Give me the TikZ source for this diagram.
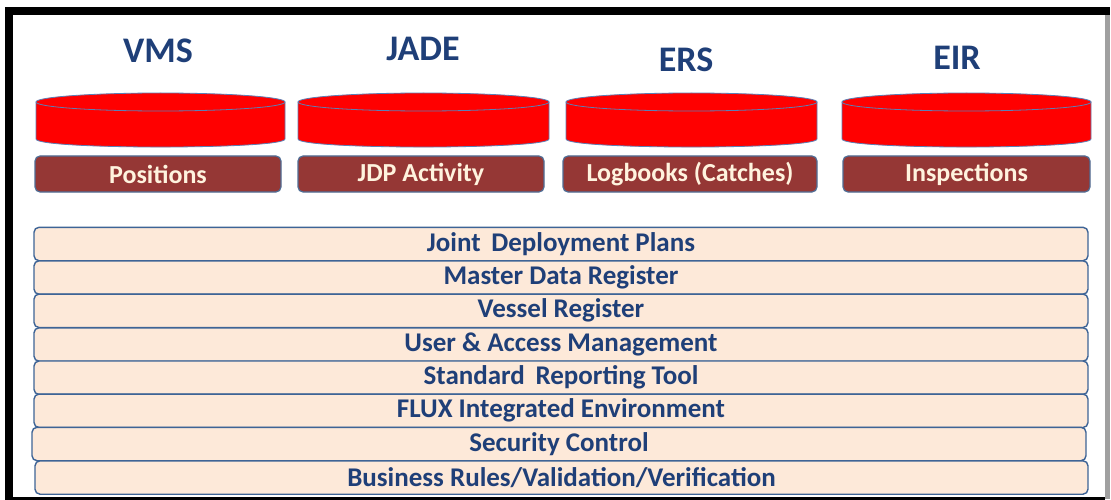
\documentclass[tikz,border=0pt]{standalone}
\usepackage{fontspec}
\setmainfont{Carlito}
\definecolor{titleblue}{HTML}{1F3F78}
\definecolor{rowfill}{HTML}{FDE9D9}
\definecolor{rowline}{HTML}{3E6496}
\definecolor{boxfill}{HTML}{953735}
\definecolor{boxline}{HTML}{4F6E96}
\definecolor{boxtext}{HTML}{FFF3DE}
\definecolor{cylline}{HTML}{5B7FB5}
\definecolor{framegrey}{HTML}{A0A0A0}
\tikzset{
  rowbox/.style={draw=rowline, fill=rowfill, line width=1.4pt, rounded corners=5pt,
    minimum height=33.4pt, inner sep=0pt, font=\fontsize{27}{29}\selectfont\bfseries, text=titleblue},
  labelbox/.style={draw=boxline, fill=boxfill, line width=1.2pt, rounded corners=5pt,
    minimum height=36pt, inner sep=0pt, font=\fontsize{26}{28}\selectfont\bfseries, text=boxtext},
  titletext/.style={anchor=base, inner sep=0pt, font=\fontsize{36}{38}\selectfont\bfseries, text=titleblue},
  cyl/.style={fill=red, draw=cylline, line width=0.8pt}
}
\newcommand{\mycyl}[3]{% name, x1, x2
  \path[cyl] (#2,102) -- (#2,139) .. controls (#2,149.7) and (#3,149.7) .. (#3,139) -- (#3,102) -- cycle;
  \path[cyl] ({(#2+#3)/2},102) ellipse [x radius={(#3-#2)/2*1pt}, y radius=9pt];
  \coordinate (#1) at ({(#2+#3)/2},120);
}
\begin{document}
\begin{tikzpicture}[x=1pt,y=-1pt]
\useasboundingbox (0,0) rectangle (1111,500);
\fill[white] (0,0) rectangle (1111,500);
% frame
\fill[black] (5,7) rectangle (1110,15);
\fill[black] (5,7) rectangle (13,499);
\fill[black] (5,497) rectangle (1105,499.5);
\fill[framegrey] (1105,15) rectangle (1110,499);

% titles
\node[titletext] (tvms) at (158,63) {VMS};
\node[titletext] (tjade) at (423,61) {JADE};
\node[titletext] (ters) at (686,72) {ERS};
\node[titletext] (teir) at (957,70) {EIR};

% cylinders
\mycyl{cvms}{36}{285}
\mycyl{cjade}{298}{549}
\mycyl{cers}{566}{817}
\mycyl{ceir}{842}{1091}

% labels
\node[labelbox, minimum width=246pt] (bvms) at (158,174) {Positions};
\node[labelbox, minimum width=246pt] (bjade) at (421,174) {JDP Activity};
\node[labelbox, minimum width=254pt] (bers) at (690,174) {Logbooks (Catches)};
\node[labelbox, minimum width=247pt] (beir) at (966.5,174) {Inspections};

% rows
\node[rowbox, minimum width=1054pt] (r1) at (561,244) {Joint\, Deployment Plans};
\node[rowbox, minimum width=1054pt] (r2) at (561,277.5) {Master Data Register};
\node[rowbox, minimum width=1054pt] (r3) at (561,310.8) {Vessel Register};
\node[rowbox, minimum width=1054pt] (r4) at (561,344.5) {User \& Access Management};
\node[rowbox, minimum width=1054pt] (r5) at (561,377.7) {Standard\, Reporting Tool};
\node[rowbox, minimum width=1054pt] (r6) at (561,410.8) {FLUX Integrated Environment};
\node[rowbox, minimum width=1054pt] (r7) at (559,444) {Security Control};
\node[rowbox, minimum width=1053pt] (r8) at (561.5,477.5) {Business Rules/Validation/Verification};
\end{tikzpicture}
\end{document}
